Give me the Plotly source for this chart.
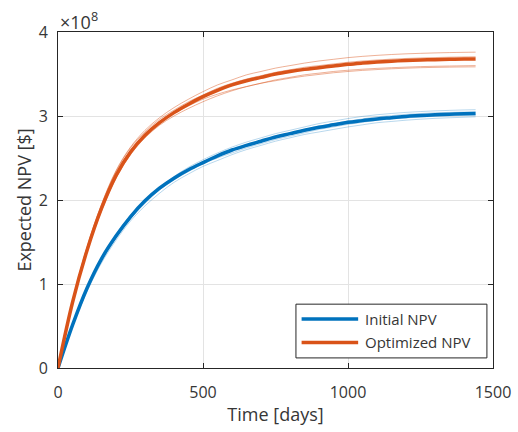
import plotly.graph_objects as go

# Time axis (days)
time_days = [0, 50, 100, 150, 200, 250, 300, 350, 400, 450, 500, 550, 600, 650, 700,
             750, 800, 850, 900, 950, 1000, 1050, 1100, 1150, 1200, 1250, 1300, 1350, 1400, 1440]

# Expected NPV in units of 1e8 $
initial_mean = [0, 0.51, 0.95, 1.30, 1.57, 1.80, 1.99, 2.14, 2.26, 2.36,
                2.445, 2.525, 2.595, 2.65, 2.70, 2.75, 2.79, 2.83, 2.865, 2.895,
                2.925, 2.945, 2.965, 2.98, 2.995, 3.005, 3.015, 3.022, 3.027, 3.03]
optimized_mean = [0, 0.78, 1.40, 1.90, 2.29, 2.57, 2.77, 2.92, 3.04, 3.14,
                  3.23, 3.305, 3.37, 3.42, 3.46, 3.50, 3.53, 3.555, 3.575, 3.595,
                  3.615, 3.63, 3.643, 3.653, 3.66, 3.666, 3.671, 3.675, 3.678, 3.68]

initial_members = [
    [0, 0.51, 0.95, 1.31, 1.59, 1.82, 2.00, 2.15, 2.28, 2.39, 2.48, 2.56, 2.63, 2.69, 2.74,
     2.79, 2.83, 2.87, 2.91, 2.94, 2.97, 2.995, 3.015, 3.03, 3.043, 3.053, 3.061, 3.067, 3.072, 3.075],
    [0, 0.49, 0.91, 1.25, 1.52, 1.75, 1.93, 2.08, 2.21, 2.31, 2.40, 2.47, 2.54, 2.60, 2.65,
     2.70, 2.74, 2.78, 2.81, 2.84, 2.87, 2.895, 2.92, 2.935, 2.95, 2.962, 2.972, 2.979, 2.985, 2.99],
    [0, 0.50, 0.93, 1.28, 1.55, 1.78, 1.96, 2.12, 2.25, 2.36, 2.45, 2.53, 2.60, 2.66, 2.71,
     2.76, 2.80, 2.84, 2.88, 2.91, 2.94, 2.965, 2.99, 3.005, 3.02, 3.03, 3.038, 3.043, 3.047, 3.05],
    [0, 0.50, 0.94, 1.28, 1.55, 1.78, 1.97, 2.12, 2.24, 2.34, 2.43, 2.50, 2.56, 2.62, 2.67,
     2.72, 2.76, 2.80, 2.84, 2.87, 2.90, 2.925, 2.95, 2.965, 2.978, 2.988, 2.996, 3.002, 3.007, 3.01],
]
optimized_members = [
    [0, 0.80, 1.44, 1.95, 2.35, 2.63, 2.83, 2.98, 3.10, 3.20, 3.29, 3.37, 3.43, 3.49, 3.53,
     3.57, 3.60, 3.63, 3.655, 3.675, 3.695, 3.71, 3.722, 3.732, 3.74, 3.746, 3.751, 3.755, 3.758, 3.76],
    [0, 0.80, 1.43, 1.94, 2.34, 2.62, 2.81, 2.96, 3.07, 3.17, 3.25, 3.33, 3.39, 3.44, 3.48,
     3.52, 3.55, 3.58, 3.60, 3.62, 3.64, 3.655, 3.667, 3.677, 3.685, 3.691, 3.696, 3.70, 3.703, 3.705],
    [0, 0.77, 1.38, 1.87, 2.26, 2.54, 2.74, 2.89, 3.00, 3.09, 3.17, 3.24, 3.30, 3.35, 3.39,
     3.43, 3.46, 3.49, 3.51, 3.53, 3.545, 3.557, 3.567, 3.575, 3.582, 3.588, 3.592, 3.595, 3.598, 3.60],
    [0, 0.79, 1.42, 1.92, 2.32, 2.59, 2.78, 2.92, 3.03, 3.12, 3.20, 3.26, 3.31, 3.35, 3.39,
     3.42, 3.45, 3.475, 3.495, 3.515, 3.53, 3.543, 3.553, 3.562, 3.569, 3.575, 3.579, 3.582, 3.584, 3.585],
]

x_ticks = [0, 500, 1000, 1500]
y_ticks = [0, 1, 2, 3, 4]
legend_labels = ["Initial NPV", "Optimized NPV"]

BLUE = "#0072BD"
ORANGE = "#D95319"
AX = "#262626"
TXT = "#363636"
FONT = "Open Sans"
SPL = dict(shape="spline", smoothing=1.0)

fig = go.Figure()
for m in initial_members:
    fig.add_trace(go.Scatter(x=time_days, y=m, mode="lines", showlegend=False,
                             line=dict(color="rgba(0,114,189,0.28)", width=1, **SPL), hoverinfo="skip"))
fig.add_trace(go.Scatter(x=time_days, y=initial_mean, mode="lines", name=legend_labels[0], showlegend=False,
                         line=dict(color=BLUE, width=3.5, **SPL)))
for m in optimized_members:
    fig.add_trace(go.Scatter(x=time_days, y=m, mode="lines", showlegend=False,
                             line=dict(color="rgba(217,83,25,0.45)", width=1, **SPL), hoverinfo="skip"))
fig.add_trace(go.Scatter(x=time_days, y=optimized_mean, mode="lines", name=legend_labels[1], showlegend=False,
                         line=dict(color=ORANGE, width=3.5, **SPL)))

axis_common = dict(showline=True, linecolor=AX, linewidth=1, mirror="allticks",
                   ticks="inside", ticklen=5, tickcolor=AX, showgrid=True,
                   gridcolor="#e3e3e3", gridwidth=1, zeroline=False, automargin=False,
                   tickfont=dict(family=FONT, size=16, color=TXT))

fig.update_xaxes(range=[0, 1500], tickvals=x_ticks, ticktext=[str(v) for v in x_ticks],
                 ticklabelstandoff=10,
                 title=dict(text="Time [days]", font=dict(family=FONT, size=18, color=TXT), standoff=6),
                 **axis_common)
fig.update_yaxes(range=[0, 4], tickvals=y_ticks, ticktext=[str(v) for v in y_ticks],
                 ticklabelstandoff=6,
                 title=dict(text="Expected NPV [$]", font=dict(family=FONT, size=18, color=TXT), standoff=2),
                 **axis_common)

fig.add_annotation(xref="paper", yref="paper", x=0.0, y=1.0, xanchor="left", yanchor="bottom",
                   text="×10<sup>8</sup>", showarrow=False, yshift=-4,
                   font=dict(family=FONT, size=18, color=TXT))

# Manual legend (paper coords)
x0, x1, y0, y1 = 0.547, 0.986, 0.030, 0.190
fig.add_shape(type="rect", xref="paper", yref="paper", x0=x0, x1=x1, y0=y0, y1=y1,
              line=dict(color=AX, width=1), fillcolor="white", layer="above")
legend_rows = [(0.146, BLUE), (0.076, ORANGE)]
for (yy, col), lab in zip(legend_rows, legend_labels):
    fig.add_shape(type="line", xref="paper", yref="paper", x0=0.560, x1=0.690, y0=yy, y1=yy,
                  line=dict(color=col, width=3.5), layer="above")
    fig.add_annotation(xref="paper", yref="paper", x=0.700, y=yy, xanchor="left", yanchor="middle",
                       text=lab, showarrow=False, font=dict(family=FONT, size=15, color=TXT))

fig.update_layout(
    width=518, height=432,
    margin=dict(l=58, r=25, t=32, b=64),
    paper_bgcolor="white", plot_bgcolor="white",
    font=dict(family=FONT, color=TXT),
    showlegend=False,
)

fig.write_html("out.html")
